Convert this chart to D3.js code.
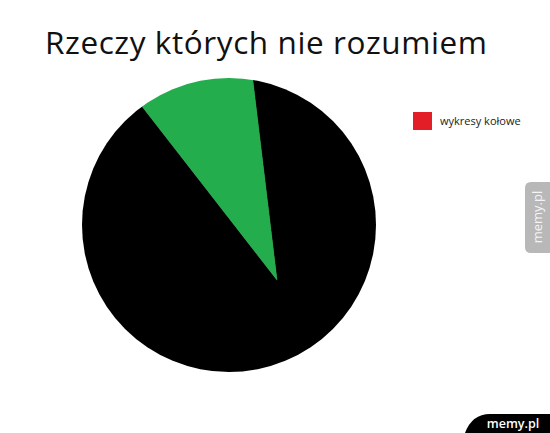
<!DOCTYPE html>
<html>
<head>
<meta charset="utf-8">
<script src="https://cdn.jsdelivr.net/npm/d3@7"></script>
<style>
  body { margin: 0; background: #fff; }
  svg { display: block; }
</style>
</head>
<body>
<div id="chart"></div>
<script>
// Data
var title = "Rzeczy których nie rozumiem";
var sliceNames = ["reszta", "wykresy kołowe"];
var sliceValues = [91.4, 8.6];
var sliceColors = ["#000000", "#23ad4c"];
var legendNames = ["wykresy kołowe"];
var legendColors = ["#e31e26"];

var w = 550, h = 433;

// pie geometry
var cx = 229, cy = 225, r = 147;
// slices meet at a point off the centre (that is the joke)
var tipX = 277, tipY = 280;
var startDeg = -6.9;

var svg = d3.select("#chart").append("svg")
  .attr("width", w)
  .attr("height", h);

svg.append("text")
  .attr("x", 45)
  .attr("y", 54)
  .attr("textLength", 442)
  .attr("lengthAdjust", "spacing")
  .style("font-family", "'Open Sans', sans-serif")
  .style("font-size", "31.5px")
  .style("fill", "#111")
  .text(title);

// clip to the pie circle
svg.append("clipPath")
  .attr("id", "pieClip")
  .append("circle")
  .attr("cx", cx)
  .attr("cy", cy)
  .attr("r", r);

var pie = d3.pie()
  .sort(null)
  .startAngle(startDeg * Math.PI / 180)
  .endAngle((startDeg + 360) * Math.PI / 180);

var arc = d3.arc()
  .innerRadius(0)
  .outerRadius(400);

svg.append("g")
  .attr("clip-path", "url(#pieClip)")
  .append("g")
  .attr("transform", "translate(" + tipX + "," + tipY + ")")
  .selectAll("path")
  .data(pie(sliceValues))
  .enter()
  .append("path")
  .attr("d", arc)
  .attr("fill", function(d, i) { return sliceColors[i]; })
  .attr("stroke", function(d, i) { return sliceColors[i]; })
  .attr("stroke-width", 0.5);

// Legend
var legend = svg.selectAll("g.legend")
  .data(legendNames)
  .enter()
  .append("g")
  .attr("class", "legend")
  .attr("transform", function(d, i) { return "translate(413," + (112 + i * 24) + ")"; });

legend.append("rect")
  .attr("width", 19)
  .attr("height", 18)
  .attr("fill", function(d, i) { return legendColors[i]; });

legend.append("text")
  .attr("x", 27)
  .attr("y", 13)
  .style("font-family", "'Open Sans', sans-serif")
  .style("font-size", "11px")
  .style("fill", "#222")
  .text(function(d) { return d; });

// memy.pl watermarks
var side = svg.append("g");
side.append("path")
  .attr("d", "M550,182 L531,182 Q525,182 525,188 L525,247 Q525,253 531,253 L550,253 Z")
  .attr("fill", "#b8b8b8");
side.append("text")
  .attr("transform", "translate(542,217) rotate(-90)")
  .attr("text-anchor", "middle")
  .style("font-family", "'Open Sans', sans-serif")
  .style("font-size", "13px")
  .style("fill", "#f4f4f4")
  .text("memy.pl");

var tab = svg.append("g");
tab.append("path")
  .attr("d", "M465,433 Q472,414 490,414 L550,414 L550,433 Z")
  .attr("fill", "#000");
tab.append("text")
  .attr("x", 513)
  .attr("y", 428)
  .attr("text-anchor", "middle")
  .style("font-family", "'Open Sans', sans-serif")
  .style("font-size", "12.5px")
  .style("font-weight", "600")
  .style("fill", "#fff")
  .text("memy.pl");
</script>
</body>
</html>
